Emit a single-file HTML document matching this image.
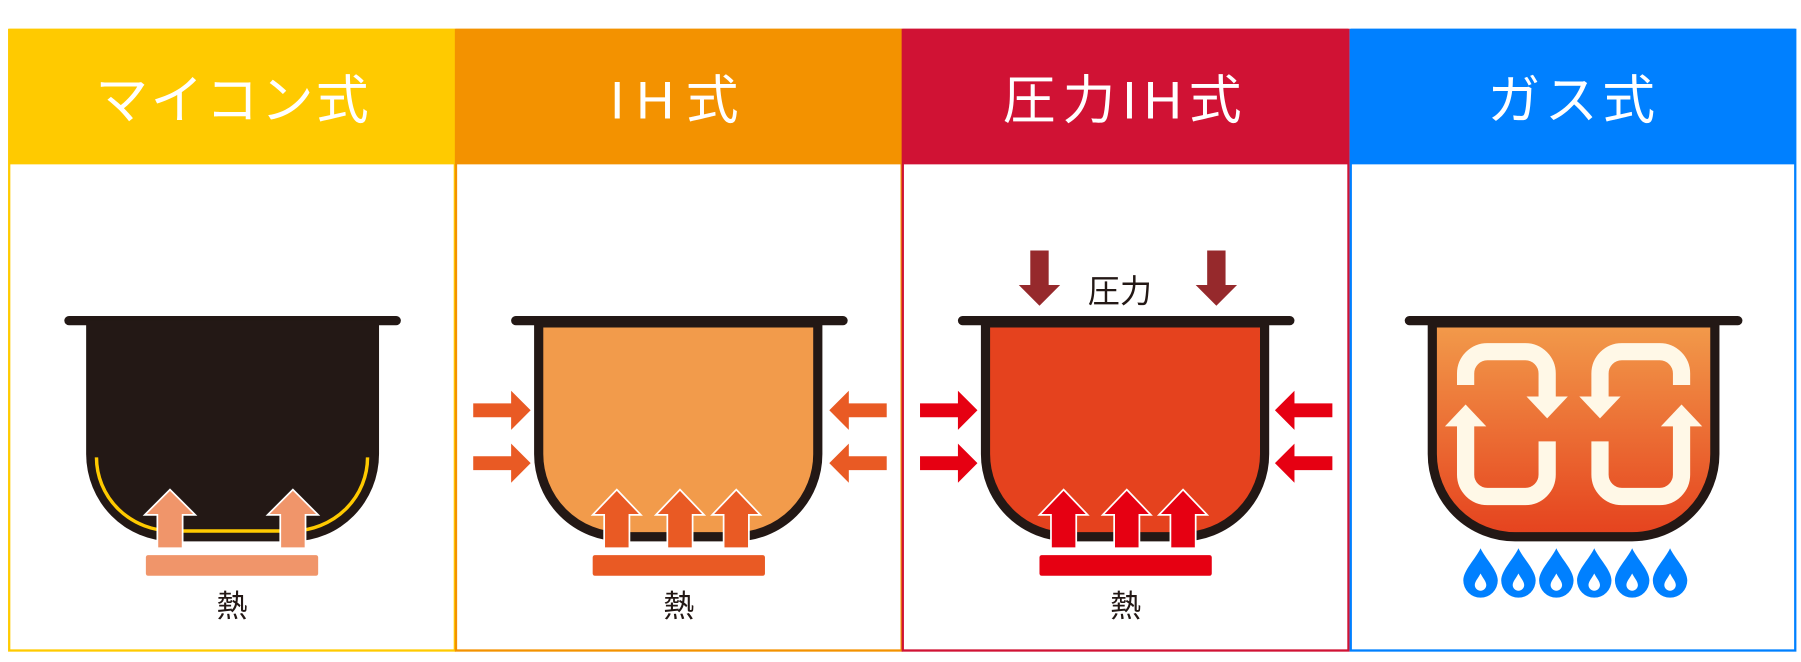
<!DOCTYPE html>
<html><head><meta charset="utf-8"><style>
html,body{margin:0;padding:0;background:#fff;}
svg{display:block;}
text{font-family:"Liberation Sans","Noto Sans CJK JP",sans-serif;}
</style></head><body>
<svg width="1801" height="662" viewBox="0 0 1568 576" preserveAspectRatio="none" xmlns="http://www.w3.org/2000/svg">
<defs>
<linearGradient id="g4" x1="0" y1="0" x2="0" y2="1">
<stop offset="0" stop-color="#F29B4B"/><stop offset="1" stop-color="#E5421E"/>
</linearGradient>
<symbol id="drop" overflow="visible">
<path d="M0 0 C4 9 15 19 15 28 A15 15 0 0 1 -15 28 C-15 19 -4 9 0 0 Z" fill="#0080FF"/>
<path d="M0 22 C2 26 5 29 5 32 A5 5 0 0 1 -5 32 C-5 29 -2 26 0 22 Z" fill="#fff"/>
</symbol>
</defs>
<!-- panels -->
<rect x="8" y="26" width="388" height="540" fill="none" stroke="#FFCA00" stroke-width="2"/>
<rect x="8" y="25" width="388" height="118" fill="#FFCA00"/>
<rect x="397" y="26" width="388" height="540" fill="none" stroke="#F39200" stroke-width="2"/>
<rect x="397" y="25" width="388" height="118" fill="#F39200"/>
<rect x="786" y="26" width="388" height="540" fill="none" stroke="#D01234" stroke-width="2"/>
<rect x="786" y="25" width="388" height="118" fill="#D01234"/>
<rect x="1176" y="26" width="387" height="540" fill="none" stroke="#0080FF" stroke-width="2"/>
<rect x="1176" y="25" width="387" height="118" fill="#0080FF"/>
<g fill="#fff" font-size="46" text-anchor="middle">
<text x="203" y="103" letter-spacing="2">マイコン式</text>
<text x="592" y="103" letter-spacing="10">IH式</text>
<text x="980" y="103" letter-spacing="6">圧力IH式</text>
<text x="1370" y="103" letter-spacing="4">ガス式</text>
</g>

<!-- pot 1 -->
<line x1="60" y1="279" x2="345" y2="279" stroke="#231815" stroke-width="8" stroke-linecap="round"/>
<path d="M75 279 V395 A75 76 0 0 0 150 471 H255 A75 76 0 0 0 330 395 V279 Z" fill="#231815"/>
<path d="M84 398 A66 64 0 0 0 150 462 H255 A66 64 0 0 0 320 398" fill="none" stroke="#FFCA00" stroke-width="3"/>
<g fill="#F0956A" stroke="#fff" stroke-width="1.5">
<polygon points="148,426 170,448 159,448 159,477 137,477 137,448 126,448"/>
<polygon points="255,426 277,448 266,448 266,477 244,477 244,448 233,448"/>
</g>
<rect x="127" y="483" width="150" height="18" rx="2" fill="#F0956A"/>
<text x="202" y="537" font-size="27" text-anchor="middle" fill="#231815">熱</text>

<!-- pot 2 -->
<line x1="449" y1="279" x2="734" y2="279" stroke="#231815" stroke-width="8" stroke-linecap="round"/>
<path d="M469 281 V395 A72 72 0 0 0 541 467 H640 A72 72 0 0 0 712 395 V281 Z" fill="#F29B4B" stroke="#231815" stroke-width="8"/>
<g fill="#E95A24">
<polygon points="412,351 445,351 445,340 462,357 445,374 445,363 412,363"/>
<polygon points="412,397 445,397 445,386 462,403 445,420 445,409 412,409"/>
<polygon points="772,351 739,351 739,340 722,357 739,374 739,363 772,363"/>
<polygon points="772,397 739,397 739,386 722,403 739,420 739,409 772,409"/>
</g>
<g fill="#E95A24" stroke="#fff" stroke-width="1.5">
<polygon points="537,426 558,448 548,448 548,477 526,477 526,448 516,448"/>
<polygon points="592,426 613,448 603,448 603,477 581,477 581,448 571,448"/>
<polygon points="641,426 662,448 652,448 652,477 630,477 630,448 620,448"/>
</g>
<rect x="516" y="483" width="150" height="18" rx="2" fill="#E95A24"/>
<text x="591" y="537" font-size="27" text-anchor="middle" fill="#231815">熱</text>

<!-- pot 3 -->
<g fill="#96292C">
<polygon points="897,218 913,218 913,248 923,248 905,266 887,248 897,248"/>
<polygon points="1051,218 1067,218 1067,248 1077,248 1059,266 1041,248 1051,248"/>
</g>
<text x="975" y="263" font-size="28" text-anchor="middle" fill="#231815">圧力</text>
<line x1="838" y1="279" x2="1123" y2="279" stroke="#231815" stroke-width="8" stroke-linecap="round"/>
<path d="M858 281 V395 A72 72 0 0 0 930 467 H1029 A72 72 0 0 0 1101 395 V281 Z" fill="#E5421E" stroke="#231815" stroke-width="8"/>
<g fill="#E60012">
<polygon points="801,351 834,351 834,340 851,357 834,374 834,363 801,363"/>
<polygon points="801,397 834,397 834,386 851,403 834,420 834,409 801,409"/>
<polygon points="1160,351 1127,351 1127,340 1110,357 1127,374 1127,363 1160,363"/>
<polygon points="1160,397 1127,397 1127,386 1110,403 1127,420 1127,409 1160,409"/>
</g>
<g fill="#E60012" stroke="#fff" stroke-width="1.5">
<polygon points="926,426 947,448 937,448 937,477 915,477 915,448 905,448"/>
<polygon points="981,426 1002,448 992,448 992,477 970,477 970,448 960,448"/>
<polygon points="1030,426 1051,448 1041,448 1041,477 1019,477 1019,448 1009,448"/>
</g>
<rect x="905" y="483" width="150" height="18" rx="2" fill="#E60012"/>
<text x="980" y="537" font-size="27" text-anchor="middle" fill="#231815">熱</text>

<!-- pot 4 -->
<line x1="1227" y1="279" x2="1513" y2="279" stroke="#231815" stroke-width="8" stroke-linecap="round"/>
<path d="M1247 281 V395 A72 72 0 0 0 1319 467 H1421 A72 72 0 0 0 1493 395 V281 Z" fill="url(#g4)" stroke="#231815" stroke-width="8"/>
<g fill="none" stroke="#FFF8E7" stroke-width="15">
<path d="M1276 335 V325 A19 19 0 0 1 1295 306 H1328 A19 19 0 0 1 1347 325 V346"/>
<path d="M1347 384 V413 A19 19 0 0 1 1328 432 H1295 A19 19 0 0 1 1276 413 V370"/>
<path d="M1464 335 V325 A19 19 0 0 0 1445 306 H1412 A19 19 0 0 0 1393 325 V346"/>
<path d="M1393 384 V413 A19 19 0 0 0 1412 432 H1445 A19 19 0 0 0 1464 413 V370"/>
</g>
<g fill="#FFF8E7">
<polygon points="1329,345 1365,345 1347,364"/>
<polygon points="1258,371 1294,371 1276,352"/>
<polygon points="1375,345 1411,345 1393,364"/>
<polygon points="1446,371 1482,371 1464,352"/>
</g>
<use href="#drop" x="1289" y="477"/>
<use href="#drop" x="1322" y="477"/>
<use href="#drop" x="1355" y="477"/>
<use href="#drop" x="1388" y="477"/>
<use href="#drop" x="1421" y="477"/>
<use href="#drop" x="1454" y="477"/>
</svg>
</body></html>
